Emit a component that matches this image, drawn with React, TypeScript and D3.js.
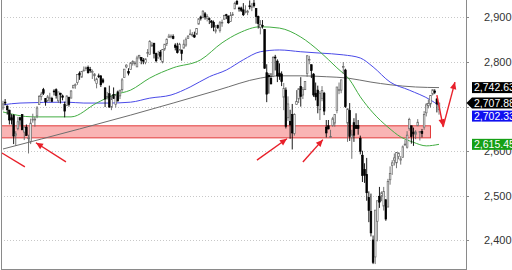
import React from "react";
import * as d3 from "d3";

// Daily OHLC, 2018-04-17 .. 2019-02-08 (one row per month in each array)
const opens: number[] = [
  2697, 2710, 2701, 2692, 2675, 2680, 2635, 2651, 2675, 2682,
  2643, 2654, 2628, 2621, 2670, 2670, 2679, 2705, 2723, 2738, 2718, 2713, 2719, 2718, 2735, 2738, 2713, 2730, 2724, 2705, 2702, 2721,
  2719, 2742, 2749, 2754, 2775, 2766, 2780, 2785, 2788, 2783, 2777, 2769, 2752, 2769, 2769, 2760, 2742, 2722, 2729, 2699, 2727,
  2705, 2733, 2724, 2738, 2765, 2789, 2779, 2783, 2797, 2797, 2789, 2811, 2810, 2804, 2799, 2820, 2817, 2836, 2842, 2819, 2809,
  2822, 2800, 2829, 2841, 2855, 2856, 2857, 2838, 2835, 2827, 2827, 2831, 2838, 2853, 2861, 2860, 2860, 2862, 2885, 2901, 2900, 2908, 2898,
  2897, 2892, 2889, 2869, 2882, 2871, 2889, 2896, 2906, 2903, 2891, 2906, 2919, 2936, 2921, 2921, 2917, 2912, 2911,
  2926, 2923, 2932, 2920, 2902, 2877, 2882, 2873, 2776, 2770, 2763, 2767, 2811, 2802, 2775, 2773, 2721, 2737, 2675, 2667, 2682, 2640, 2705,
  2717, 2745, 2726, 2738, 2774, 2806, 2794, 2773, 2730, 2737, 2693, 2718, 2730, 2654, 2657, 2633, 2658, 2663, 2691, 2736, 2737,
  2790, 2782, 2663, 2691, 2630, 2664, 2658, 2658, 2629, 2591, 2559, 2548, 2496, 2465, 2401, 2363, 2443, 2499, 2499,
  2477, 2491, 2475, 2536, 2568, 2580, 2574, 2588, 2580, 2586, 2615, 2609, 2651, 2657, 2643, 2638, 2657, 2644, 2644, 2654, 2686,
  2702, 2706, 2728, 2735, 2717, 2693,
];
const highs: number[] = [
  2713, 2717, 2703, 2693, 2683, 2683, 2645, 2677, 2677, 2683,
  2655, 2660, 2637, 2673, 2684, 2677, 2701, 2726, 2733, 2742, 2718, 2726, 2731, 2722, 2739, 2741, 2733, 2731, 2727, 2711, 2725, 2722,
  2737, 2749, 2752, 2772, 2779, 2780, 2790, 2790, 2792, 2789, 2783, 2775, 2765, 2774, 2770, 2764, 2743, 2733, 2747, 2725, 2743,
  2727, 2736, 2737, 2764, 2784, 2795, 2786, 2800, 2804, 2802, 2814, 2816, 2810, 2809, 2808, 2829, 2849, 2845, 2843, 2821, 2825,
  2827, 2829, 2840, 2853, 2863, 2862, 2862, 2842, 2843, 2843, 2827, 2850, 2855, 2860, 2873, 2867, 2868, 2876, 2898, 2904, 2916, 2912, 2907,
  2900, 2894, 2893, 2883, 2884, 2892, 2895, 2906, 2908, 2904, 2912, 2912, 2935, 2941, 2924, 2924, 2932, 2927, 2917,
  2938, 2932, 2940, 2920, 2904, 2894, 2894, 2874, 2795, 2775, 2775, 2813, 2816, 2806, 2797, 2779, 2753, 2743, 2723, 2693, 2706, 2685, 2737,
  2741, 2766, 2744, 2756, 2815, 2814, 2794, 2775, 2754, 2747, 2735, 2746, 2733, 2670, 2670, 2648, 2677, 2682, 2744, 2754, 2760,
  2800, 2785, 2696, 2708, 2648, 2674, 2685, 2670, 2635, 2601, 2573, 2585, 2510, 2505, 2411, 2467, 2489, 2520, 2510,
  2520, 2493, 2538, 2566, 2580, 2595, 2597, 2597, 2589, 2613, 2625, 2645, 2675, 2657, 2653, 2647, 2672, 2644, 2650, 2690, 2708,
  2716, 2724, 2738, 2739, 2719, 2709,
];
const lows: number[] = [
  2692, 2703, 2682, 2660, 2660, 2616, 2612, 2647, 2659, 2648,
  2625, 2635, 2595, 2616, 2664, 2655, 2674, 2704, 2714, 2726, 2702, 2711, 2711, 2710, 2725, 2718, 2708, 2707, 2714, 2676, 2702, 2700,
  2719, 2741, 2740, 2749, 2760, 2765, 2779, 2780, 2774, 2776, 2762, 2757, 2741, 2764, 2744, 2752, 2699, 2716, 2698, 2692, 2718,
  2698, 2711, 2717, 2733, 2765, 2786, 2770, 2783, 2792, 2792, 2789, 2806, 2795, 2795, 2795, 2811, 2817, 2834, 2808, 2799, 2808,
  2804, 2797, 2825, 2836, 2855, 2853, 2851, 2826, 2819, 2826, 2803, 2831, 2834, 2852, 2861, 2856, 2854, 2862, 2884, 2893, 2898, 2895, 2891,
  2885, 2876, 2869, 2864, 2874, 2866, 2879, 2895, 2896, 2886, 2890, 2903, 2919, 2928, 2913, 2912, 2903, 2909, 2905,
  2918, 2914, 2922, 2886, 2875, 2862, 2875, 2785, 2710, 2729, 2750, 2767, 2781, 2755, 2760, 2746, 2692, 2651, 2668, 2628, 2604, 2635, 2705,
  2708, 2700, 2717, 2738, 2767, 2795, 2764, 2722, 2714, 2685, 2670, 2712, 2681, 2631, 2649, 2631, 2655, 2655, 2685, 2728, 2730,
  2773, 2697, 2621, 2623, 2583, 2621, 2651, 2637, 2593, 2531, 2529, 2489, 2441, 2409, 2347, 2347, 2398, 2473, 2488,
  2467, 2444, 2474, 2525, 2547, 2568, 2562, 2582, 2570, 2586, 2612, 2606, 2646, 2617, 2612, 2627, 2657, 2624, 2631, 2648, 2678,
  2696, 2698, 2725, 2728, 2687, 2682,
];
const closes: number[] = [
  2706, 2708, 2693, 2670, 2670, 2634, 2639, 2666, 2670, 2648,
  2654, 2635, 2630, 2663, 2672, 2672, 2697, 2723, 2728, 2730, 2711, 2722, 2720, 2712, 2733, 2725, 2733, 2727, 2721, 2690, 2724, 2705,
  2735, 2747, 2749, 2772, 2771, 2779, 2782, 2787, 2776, 2782, 2779, 2773, 2762, 2767, 2749, 2755, 2717, 2723, 2699, 2716, 2718,
  2726, 2713, 2737, 2760, 2784, 2793, 2775, 2798, 2801, 2798, 2809, 2815, 2804, 2802, 2807, 2821, 2846, 2838, 2819, 2803, 2816,
  2813, 2828, 2840, 2851, 2858, 2858, 2853, 2833, 2821, 2840, 2819, 2840, 2850, 2858, 2863, 2862, 2856, 2875, 2897, 2898, 2914, 2901, 2902,
  2896, 2889, 2878, 2872, 2877, 2888, 2889, 2904, 2905, 2888, 2904, 2907, 2931, 2930, 2920, 2916, 2906, 2914, 2914,
  2924, 2924, 2926, 2902, 2886, 2884, 2881, 2786, 2728, 2767, 2751, 2810, 2809, 2769, 2768, 2756, 2741, 2656, 2706, 2659, 2641, 2682, 2712,
  2740, 2723, 2738, 2756, 2814, 2806, 2781, 2726, 2722, 2702, 2730, 2736, 2690, 2641, 2650, 2633, 2673, 2682, 2744, 2738, 2760,
  2790, 2700, 2695, 2633, 2637, 2636, 2651, 2651, 2600, 2546, 2546, 2507, 2467, 2417, 2351, 2468, 2489, 2486, 2507,
  2510, 2448, 2532, 2550, 2574, 2585, 2597, 2596, 2583, 2610, 2616, 2636, 2671, 2633, 2639, 2643, 2665, 2644, 2640, 2682, 2704,
  2707, 2725, 2738, 2732, 2706, 2707.88,
];

// Moving averages as [bar index, value]
const ma50: [number, number][] = [
  [0, 2688], [14, 2677], [32, 2677], [44, 2708], [52, 2726], [60, 2737], [69, 2764], [80, 2787],
  [93, 2805], [103, 2843], [111, 2865], [121, 2879], [130, 2876], [140, 2856], [149, 2823],
  [157, 2787], [163, 2760], [168, 2722], [174, 2686], [181, 2654], [187, 2632], [193, 2620],
  [199, 2612], [205, 2615.45],
];
const ma100: [number, number][] = [
  [0, 2704], [8, 2708], [30, 2710], [38, 2708], [50, 2708], [60, 2710], [69, 2719], [79, 2726],
  [88, 2744], [97, 2767], [105, 2782], [113, 2805], [121, 2823], [130, 2827], [140, 2823],
  [149, 2820], [160, 2816], [168, 2809], [174, 2789], [182, 2755], [191, 2737], [201, 2715],
  [205, 2702.33],
];
const ma200: [number, number][] = [
  [0, 2605], [36, 2650], [60, 2681], [80, 2708], [101, 2737], [121, 2764], [130, 2769],
  [140, 2769], [152, 2767], [162, 2764], [173, 2755], [182, 2749], [194, 2744], [205, 2742.63],
];

const yTicks = [2400, 2500, 2600, 2700, 2800, 2900];

// Support zone
const zoneLow = 2630;
const zoneHigh = 2657;
const zoneEnd = 201;

// Annotation arrows: [fromIndex, fromValue, toIndex, toValue, hasHead]
const arrows: [number, number, number, number, boolean][] = [
  [10.3, 2565, -0.5, 2596, false],
  [29.6, 2576, 15.5, 2619, true],
  [119.4, 2580, 133.5, 2628, true],
  [141, 2576, 150.4, 2626, true],
  [204, 2726, 206.9, 2656, true],
  [206.9, 2654, 212.5, 2755, true],
];

const W = 512;
const H = 270;
const plotLeft = 1;
const plotRight = 466;
const plotBottom = 269;

export default function App() {
  const n = closes.length;
  const x = d3.scaleLinear().domain([0, n - 1]).range([3, 439]);
  const y = d3.scaleLinear().domain([2336, 2939]).range([plotBottom, 0]);
  const fmt = d3.format(",.0f");
  const fmt2 = d3.format(",.2f");

  const line = d3
    .line<[number, number]>()
    .x((d) => x(d[0]))
    .y((d) => y(d[1]))
    .curve(d3.curveMonotoneX);

  const bodyW = 1.6;

  // Right-side value tags, pushed apart when they collide
  const tags = [
    { v: ma200[ma200.length - 1][1], bg: "#000", pointer: false },
    { v: closes[n - 1], bg: "#000", pointer: true },
    { v: ma100[ma100.length - 1][1], bg: "#1010f0", pointer: false },
    { v: ma50[ma50.length - 1][1], bg: "#15a015", pointer: false },
  ]
    .map((t) => ({ ...t, cy: y(t.v) }))
    .sort((a, b) => a.cy - b.cy);
  for (let i = 1; i < tags.length; i++) {
    if (tags[i].cy < tags[i - 1].cy + 13) tags[i].cy = tags[i - 1].cy + 13;
  }
  // axis labels sitting right under a tag are hidden
  const visibleTicks = yTicks.filter((t) => !tags.some((g) => Math.abs(g.cy - y(t)) < 6));

  const head = (x0: number, y0: number, x1: number, y1: number) => {
    const a = Math.atan2(y1 - y0, x1 - x0);
    const L = 7;
    const hw = 3.2;
    const bx = x1 - L * Math.cos(a);
    const by = y1 - L * Math.sin(a);
    const px = -Math.sin(a) * hw;
    const py = Math.cos(a) * hw;
    return `M${x1},${y1}L${bx + px},${by + py}L${bx - px},${by - py}Z`;
  };

  return (
    <svg
      width={W}
      height={H}
      style={{ position: "absolute", left: 0, top: 0, background: "#fff" }}
      fontFamily="'Liberation Sans', Arial, sans-serif"
    >
      <defs>
        <clipPath id="plot">
          <rect x={plotLeft} y={0} width={plotRight - plotLeft} height={plotBottom} />
        </clipPath>
      </defs>

      {/* grid */}
      {yTicks.map((t) => (
        <line
          key={t}
          x1={plotLeft}
          x2={plotRight}
          y1={Math.round(y(t)) + 0.5}
          y2={Math.round(y(t)) + 0.5}
          stroke="#c8c8c8"
          strokeDasharray="1,2"
        />
      ))}

      <g clipPath="url(#plot)">
        {/* support zone */}
        <rect
          x={plotLeft - 2}
          y={y(zoneHigh)}
          width={x(zoneEnd) - plotLeft + 2}
          height={y(zoneLow) - y(zoneHigh)}
          fill="#f9b4b4"
          stroke="#e23c3c"
          strokeWidth={1}
        />

        {/* moving averages */}
        <path d={line(ma200) || ""} fill="none" stroke="#6e6e6e" strokeWidth={1} />
        <path d={line(ma100) || ""} fill="none" stroke="#4a4ae8" strokeWidth={1} />
        <path d={line(ma50) || ""} fill="none" stroke="#42ad42" strokeWidth={1} />

        {/* candles */}
        {closes.map((c, i) => {
          const o = opens[i];
          const up = c >= o;
          const cx = x(i);
          const top = y(Math.max(o, c));
          const bot = y(Math.min(o, c));
          return (
            <g key={i}>
              <line x1={cx} x2={cx} y1={y(highs[i])} y2={y(lows[i])} stroke={up ? "#666" : "#000"} strokeWidth={0.9} />
              <rect
                x={cx - bodyW / 2}
                y={top}
                width={bodyW}
                height={Math.max(bot - top, 0.8)}
                fill={up ? "#fff" : "#000"}
                stroke={up ? "#666" : "#000"}
                strokeWidth={0.7}
              />
            </g>
          );
        })}

        {/* annotation arrows */}
        {arrows.map(([i0, v0, i1, v1, h], k) => {
          const x0 = x(i0), y0 = y(v0), x1 = x(i1), y1 = y(v1);
          return (
            <g key={k}>
              <line x1={x0} y1={y0} x2={x1} y2={y1} stroke="#e8202a" strokeWidth={1.4} />
              {h && <path d={head(x0, y0, x1, y1)} fill="#e8202a" />}
            </g>
          );
        })}
      </g>

      {/* frame */}
      <line x1={plotLeft + 0.5} x2={plotLeft + 0.5} y1={0} y2={plotBottom} stroke="#8a8a8a" />
      <line x1={plotRight + 0.5} x2={plotRight + 0.5} y1={0} y2={plotBottom + 1} stroke="#8a8a8a" />
      <line x1={plotLeft} x2={plotRight} y1={plotBottom + 0.5} y2={plotBottom + 0.5} stroke="#8a8a8a" />

      {/* axis labels */}
      {yTicks.map((t) => (
        <line key={t} x1={plotRight} x2={plotRight + 3} y1={Math.round(y(t)) + 0.5} y2={Math.round(y(t)) + 0.5} stroke="#8a8a8a" />
      ))}
      {visibleTicks.map((t) => (
        <text key={t} x={484} y={y(t)} dy="0.36em" fontSize={11} fill="#333">
          {fmt(t)}
        </text>
      ))}

      {/* value tags */}
      {tags.map((t, k) => (
        <g key={k}>
          {t.pointer ? (
            <path
              d={`M${plotRight + 0.5},${t.cy}L${plotRight + 6},${t.cy - 5.5}H${W + 2}V${t.cy + 5.5}H${plotRight + 6}Z`}
              fill={t.bg}
            />
          ) : (
            <rect x={472} y={t.cy - 5.5} width={W - 472 + 2} height={11} fill={t.bg} />
          )}
          <text x={474} y={t.cy} dy="0.36em" fontSize={10.5} fill="#fff">
            {fmt2(t.v)}
          </text>
        </g>
      ))}
    </svg>
  );
}
